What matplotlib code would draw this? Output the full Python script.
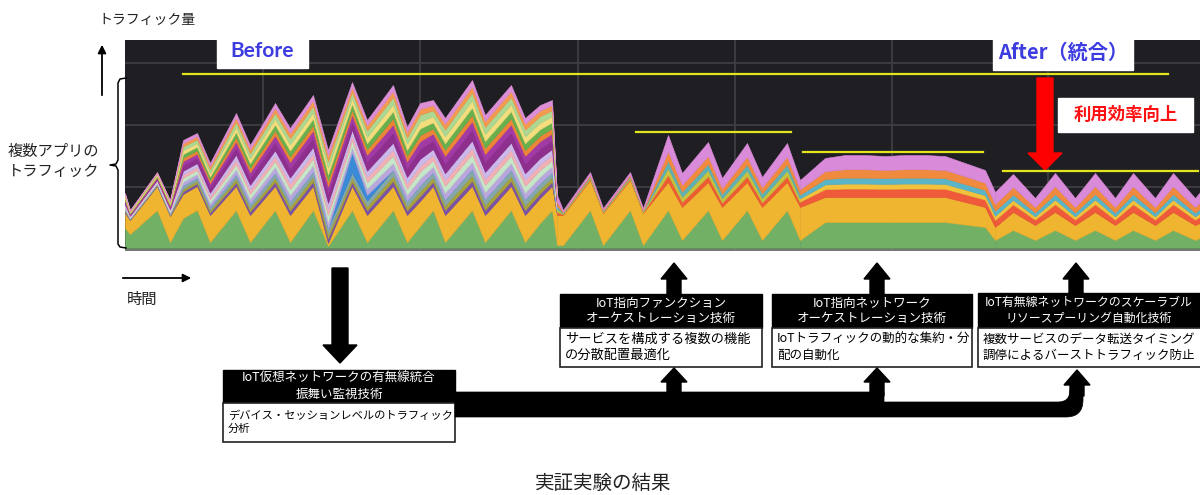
import numpy as np
import matplotlib
matplotlib.use("Agg")
from matplotlib import pyplot as plt
from matplotlib.patches import Rectangle, Polygon, PathPatch
from matplotlib.path import Path

plt.rcParams['font.family'] = ['Noto Sans CJK JP', 'DejaVu Sans']

# traffic (pixels above the chart baseline)
before_x = [125, 130, 157, 170, 183, 197, 210, 236, 250, 275, 290, 313, 328, 352,
            367, 393, 407, 420, 433, 445, 472, 485, 511, 525, 540, 552, 557]
before_total = [55, 38, 76, 48, 108, 115, 85, 135, 103, 145, 120, 153, 98, 166,
                128, 163, 121, 145, 148, 130, 168, 133, 163, 130, 143, 148, 53]
before_green = [20, 14, 38, 6, 30, 38, 6, 38, 6, 38, 6, 38, 2, 38,
                6, 38, 6, 22, 38, 6, 38, 6, 38, 6, 25, 38, 3]
before_yellow = [15, 14, 24, 26, 24, 24, 27, 24, 27, 24, 27, 24, 3, 24,
                 27, 24, 27, 25, 24, 27, 24, 27, 24, 27, 25, 24, 30]
before_blue = [0, 0, 0, 0, 0, 0, 0, 0, 0, 0, 0, 0, 0, 20,
               6, 0, 0, 0, 0, 0, 0, 0, 0, 0, 0, 0, 0]
before_colors = ['#7b52a6', '#a8a23c', '#86a8a8', '#b9a6dc', '#c6e6c8', '#f2b0b4',
                 '#cdb8ea', '#8e2f8e', '#a23aa6', '#ee8438', '#68b04e', '#f3dd7c',
                 '#acd892', '#f39a50', '#dc8fd6']
before_share = [0.05, 0.05, 0.06, 0.07, 0.07, 0.06, 0.07, 0.10, 0.08, 0.06,
                0.07, 0.07, 0.07, 0.06, 0.06]

func_x = [557, 563, 590, 603, 630, 643, 668, 682, 708, 722, 747, 762, 787, 800]
func_total = [53, 38, 76, 40, 76, 40, 113, 75, 106, 70, 105, 71, 105, 68]
func_green = [3, 3, 38, 3, 38, 3, 38, 8, 38, 8, 38, 8, 38, 8]
func_yellow = [30, 30, 30, 32, 30, 32, 28, 33, 28, 33, 28, 33, 28, 33]

net_x = [800, 825, 845, 865, 885, 905, 925, 945, 985, 995]
net_total = [68, 90, 93, 93, 92, 93, 93, 92, 78, 56]
net_green = [8, 26, 26, 26, 26, 26, 26, 26, 21, 8]
net_yellow = [33, 25, 25, 25, 25, 25, 25, 25, 20, 13]

after_x = [995, 1013, 1035, 1055, 1075, 1095, 1115, 1133, 1155, 1173, 1195, 1200]
after_total = [56, 74, 50, 75, 50, 75, 50, 75, 50, 75, 50, 56]
after_green = [8, 18, 8, 18, 8, 18, 8, 18, 8, 18, 8, 10]
after_yellow = [13, 18, 15, 18, 15, 18, 15, 18, 15, 18, 15, 15]

few_colors = ['#ee5a3a', '#f2c23c', '#5ab4c8', '#f08a3e', '#d98ad8']
few_share = [0.20, 0.12, 0.14, 0.20, 0.34]

GREEN = '#72b066'
YELLOW = '#f0b530'


def draw_segment(ax, x, total, green, yellow, colors, share, blue=None):
    total = np.array(total, float)
    green = np.array(green, float)
    yellow = np.array(yellow, float)
    blue_arr = np.zeros_like(total) if blue is None else np.array(blue, float)
    rest = total - green - yellow - blue_arr
    layers = [green, yellow]
    cols = [GREEN, YELLOW]
    for i, (c, s) in enumerate(zip(colors, share)):
        if blue is not None and i == 3:
            layers.append(blue_arr)
            cols.append('#3a8ad8')
        layers.append(rest * s)
        cols.append(c)
    polys = ax.stackplot(x, *layers, colors=cols)
    for p, c in zip(polys, cols):
        p.set_edgecolor(c)
        p.set_linewidth(0.4)


fig = plt.figure(figsize=(12, 4.95), dpi=100)

# dark traffic chart, pixel aligned: x 125..1200, y 40..251
chart = fig.add_axes([125 / 1200, (495 - 251) / 495, 1075 / 1200, 211 / 495])
chart.set_facecolor('#1f1f23')
chart.set_xlim(125, 1200)
chart.set_ylim(-3, 208)
for v in [185, 123, 61]:
    chart.axhline(v, color='#3e3e43', lw=1.3, zorder=0)
for v in [263, 420, 578, 735, 892, 1048]:
    chart.axvline(v, color='#3e3e43', lw=1.3, zorder=0)
chart.axhline(-1.5, color='#8a8a8a', lw=1.2)
for s in chart.spines.values():
    s.set_visible(False)
chart.set_xticks([])
chart.set_yticks([])

draw_segment(chart, before_x, before_total, before_green, before_yellow,
             before_colors, before_share, blue=before_blue)
draw_segment(chart, func_x, func_total, func_green, func_yellow,
             ['#ee5c34', '#c9c23e', '#5eb2b6', '#f08a3e', '#d98ad8'],
             [0.15, 0.15, 0.15, 0.20, 0.35])
draw_segment(chart, net_x, net_total, net_green, net_yellow, few_colors, few_share)
draw_segment(chart, after_x, after_total, after_green, after_yellow, few_colors, few_share)

# overlay in pixel coordinates
ax = fig.add_axes([0, 0, 1, 1])
ax.set_xlim(0, 1200)
ax.set_ylim(495, 0)
ax.patch.set_alpha(0)
ax.axis('off')

# peak level lines
for x0, x1, y in [(183, 1168, 74), (636, 791, 132), (803, 983, 152), (1003, 1198, 171)]:
    ax.plot([x0, x1], [y, y], color='#e4e41c', lw=1.6)

# Before / After labels
ax.add_patch(Rectangle((217, 32), 91, 36, color='white'))
ax.text(262, 51, 'Before', color='#3c3ce0', fontsize=15, fontweight='bold',
        ha='center', va='center', family=['Lato', 'DejaVu Sans'])
ax.add_patch(Rectangle((993, 34), 140, 36, color='white'))
ax.text(1063, 52, 'After（統合）', color='#3c3ce0', fontsize=14.5, fontweight='bold',
        ha='center', va='center')

# red arrow + label
ax.add_patch(Polygon([(1037, 78), (1053, 78), (1053, 153), (1062, 153), (1045, 170),
                      (1028, 153), (1037, 153)], closed=True, color='#ff0000'))
ax.add_patch(Rectangle((1058, 98), 135, 34, color='white'))
ax.text(1126, 115, '利用効率向上', color='#ff1010', fontsize=12.5, fontweight='bold',
        ha='center', va='center')

# axis annotations on the left
ax.text(98, 20, 'トラフィック量', fontsize=10, ha='left', va='center', color='#222222')
ax.annotate('', xy=(102, 42), xytext=(102, 98),
            arrowprops=dict(arrowstyle='-|>', color='black', lw=1.3, mutation_scale=12))
ax.text(8, 151, '複数アプリの', fontsize=11, ha='left', va='center', color='#222222')
ax.text(8, 171, 'トラフィック', fontsize=11, ha='left', va='center', color='#222222')
brace = [(126, 78), (120, 79), (118, 83), (118, 160), (116, 164), (110, 165), (116, 166),
         (118, 170), (118, 244), (120, 247), (126, 248)]
ax.plot([p[0] for p in brace], [p[1] for p in brace], color='black', lw=1.1)
ax.annotate('', xy=(194, 278), xytext=(120, 278),
            arrowprops=dict(arrowstyle='-|>', color='black', lw=1.3, mutation_scale=12))
ax.text(127, 299, '時間', fontsize=11, ha='left', va='center', color='#222222')

# big down arrow from chart to first box
ax.add_patch(Polygon([(332, 268), (348, 268), (348, 345), (357, 345), (340, 363),
                      (323, 345), (332, 345)], closed=True, color='black'))


def tech_box(x0, x1, y0, ym, y1, title, body, tsize, bsize):
    ax.add_patch(Rectangle((x0, y0), x1 - x0, ym - y0, facecolor='black',
                           edgecolor='black', lw=1))
    ax.add_patch(Rectangle((x0, ym), x1 - x0, y1 - ym, facecolor='white',
                           edgecolor='#222222', lw=1.2))
    tx = (x0 + min(x1, 1200)) / 2
    ax.text(tx, (y0 + ym) / 2, title, color='white', fontsize=tsize, ha='center',
            va='center', linespacing=1.25)
    ax.text(x0 + 5, (ym + y1) / 2, body, color='black', fontsize=bsize, ha='left',
            va='center', linespacing=1.3)


tech_box(223, 455, 370, 403, 442, 'IoT仮想ネットワークの有無線統合\n振舞い監視技術',
         'デバイス・セッションレベルのトラフィック\n分析', 9, 8.1)
tech_box(560, 762, 294, 328, 367, 'IoT指向ファンクション\nオーケストレーション技術',
         'サービスを構成する複数の機能\nの分散配置最適化', 9, 9.5)
tech_box(772, 972, 294, 328, 367, 'IoT指向ネットワーク\nオーケストレーション技術',
         'IoTトラフィックの動的な集約・分\n配の自動化', 9, 9)
tech_box(978, 1205, 293, 328, 367, 'IoT有無線ネットワークのスケーラブル\nリソースプーリング自動化技術',
         '複数サービスのデータ転送タイミング\n調停によるバーストトラフィック防止', 8.6, 9)


def up_arrow(cx, tip, base, bottom):
    ax.add_patch(Polygon([(cx - 7, bottom), (cx - 7, base), (cx - 13, base), (cx, tip),
                          (cx + 13, base), (cx + 7, base), (cx + 7, bottom)],
                         closed=True, color='black'))


# arrows from boxes up to the chart
for cx in [674, 877, 1076]:
    up_arrow(cx, 263, 279, 294)

# connector from first box to the three others
verts = [(455, 392), (884, 392), (884, 402), (1058, 402), (1070, 402), (1070, 390),
         (1083, 390), (1083, 400), (1083, 417), (1066, 417), (455, 417), (455, 392)]
codes = [Path.MOVETO, Path.LINETO, Path.LINETO, Path.LINETO, Path.CURVE3, Path.CURVE3,
         Path.LINETO, Path.LINETO, Path.CURVE3, Path.CURVE3, Path.LINETO, Path.CLOSEPOLY]
ax.add_patch(PathPatch(Path(verts, codes), facecolor='black', edgecolor='black', lw=0.5))
up_arrow(674, 368, 382, 396)
up_arrow(877, 368, 382, 396)
up_arrow(1077, 370, 385, 396)

ax.text(603, 483, '実証実験の結果', fontsize=14, ha='center', va='center', color='#222222')

fig.savefig('out.png', dpi=100)
